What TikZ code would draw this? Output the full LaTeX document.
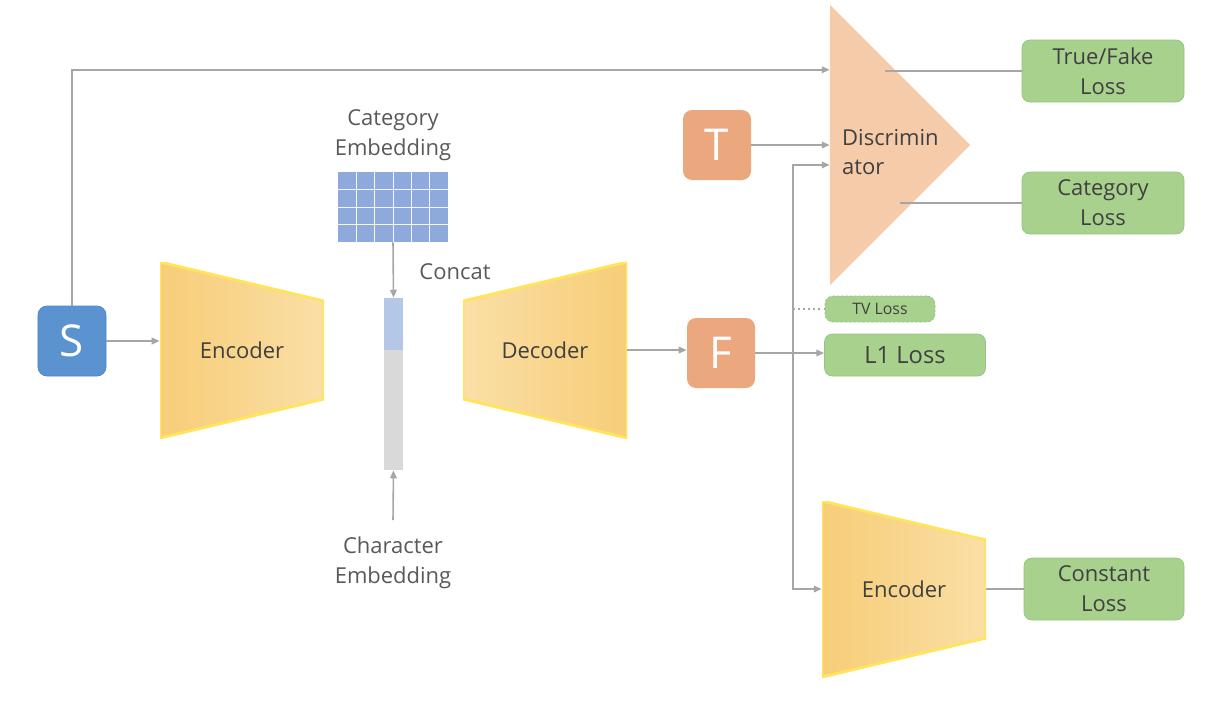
\documentclass[tikz,border=0pt]{standalone}
\usepackage{fontspec}
\setmainfont{Open Sans}
\usepackage{xcolor}
\usetikzlibrary{arrows.meta, positioning, calc}
\definecolor{sblue}{HTML}{5B93D0}
\definecolor{sedge}{HTML}{4F84C2}
\definecolor{torange}{HTML}{EBA77E}
\definecolor{discpeach}{HTML}{F5CBA9}
\definecolor{lossgreen}{HTML}{A9D18E}
\definecolor{lossedge}{HTML}{93C47D}
\definecolor{trapdark}{HTML}{F7CD78}
\definecolor{traplight}{HTML}{FADFA6}
\definecolor{trapedge}{HTML}{FFE45C}
\definecolor{embblue}{HTML}{8EA9DB}
\definecolor{barblue}{HTML}{B4C7E7}
\definecolor{bargray}{HTML}{D9D9D9}
\definecolor{linegray}{HTML}{A6A6A6}
\definecolor{boxtext}{HTML}{404040}
\definecolor{labeltext}{HTML}{595959}
\tikzset{
  inbox/.style    = {rectangle, rounded corners=1.8mm, minimum width=13.6mm,
                     minimum height=14mm, text=white,
                     font=\fontsize{25}{30}\selectfont},
  lossbox/.style  = {rectangle, rounded corners=1.6mm, draw=lossedge,
                     fill=lossgreen, minimum width=32.4mm, minimum height=12.4mm,
                     align=center, text=boxtext},
  encoder/.style  = {rectangle, inner sep=0pt, minimum width=32.8mm,
                     minimum height=35.2mm, text=boxtext,
                     path picture={\shadedraw[left color=trapdark, right color=traplight,
                       draw=trapedge, line width=1.6pt]
                       (path picture bounding box.north west)
                       -- ([yshift=-7.8mm]path picture bounding box.north east)
                       -- ([yshift=7.8mm]path picture bounding box.south east)
                       -- (path picture bounding box.south west) -- cycle;}},
  decoder/.style  = {rectangle, inner sep=0pt, minimum width=32.8mm,
                     minimum height=35.2mm, text=boxtext,
                     path picture={\shadedraw[left color=traplight, right color=trapdark,
                       draw=trapedge, line width=1.6pt]
                       ([yshift=-7.8mm]path picture bounding box.north west)
                       -- (path picture bounding box.north east)
                       -- (path picture bounding box.south east)
                       -- ([yshift=7.8mm]path picture bounding box.south west) -- cycle;}},
  discshape/.style = {rectangle, inner sep=0pt, minimum width=28mm,
                     minimum height=56mm,
                     path picture={\fill[discpeach]
                       (path picture bounding box.north west)
                       -- (path picture bounding box.east)
                       -- (path picture bounding box.south west) -- cycle;}},
  concatbar/.style = {rectangle, inner sep=0pt, minimum width=3.8mm,
                     minimum height=34.4mm, fill=bargray,
                     path picture={\fill[barblue]
                       (path picture bounding box.north west)
                       rectangle ([yshift=-10.4mm]path picture bounding box.north east);}},
  caption/.style  = {text=labeltext, align=center},
  arrow/.style    = {-{Triangle[length=4.5pt, width=3.8pt]}, line width=0.9pt, draw=linegray},
  link/.style     = {line width=0.9pt, draw=linegray},
}

\begin{document}
\begin{tikzpicture}[x=0.2mm, y=-0.2mm, font=\fontsize{12.5}{17}\selectfont]
  \useasboundingbox (0,0) rectangle (1214,702);

  % ---- generator ----
  \node[inbox, fill=sblue, draw=sedge] (S) at (72,341) {S};
  \node[encoder] (enc) at (242,350) {Encoder};

  \node[rectangle, inner sep=0pt, fill=embblue, minimum width=22mm,
        minimum height=14mm] (catemb) at (393,207) {};
  \foreach \i in {1,...,5}
    \draw[white!90!embblue, line width=0.55pt] ($(catemb.north west)!\i/6!(catemb.north east)$)
      -- ($(catemb.south west)!\i/6!(catemb.south east)$);
  \foreach \j in {1,2,3}
    \draw[white!90!embblue, line width=0.55pt] ($(catemb.north west)!\j/4!(catemb.south west)$)
      -- ($(catemb.north east)!\j/4!(catemb.south east)$);
  \node[caption] (catlabel) at (393,135) {Category\\Embedding};

  \node[concatbar] (concat) at (393.5,384) {};
  \node[caption] (concatlabel) at (455,272) {Concat};
  \coordinate (charsrc) at (393,520);
  \node[caption] (charlabel) at (393,563) {Character\\Embedding};

  \node[decoder] (dec) at (545,350) {Decoder};
  \node[inbox, fill=torange] (F) at (721,353) {F};

  % ---- discriminator ----
  \node[inbox, fill=torange] (T) at (717,145) {T};
  \node[discshape] (disc) at (900,145) {};
  \node[anchor=west, align=left, text=boxtext] (disctext) at (836,152) {Discrimin\\ator};
  \coordinate (din1) at ($(disc.north west)!0.232!(disc.south west)$);
  \coordinate (din3) at ($(disc.north west)!0.571!(disc.south west)$);

  % ---- losses ----
  \node[lossbox] (tfloss)  at (1103,71)  {True/Fake\\Loss};
  \node[lossbox] (catloss) at (1103,203) {Category\\Loss};
  \node[lossbox, minimum width=22mm, minimum height=5.2mm,
        dash pattern=on 1.5pt off 1pt,
        font=\fontsize{9}{10}\selectfont] (tvloss) at (880,309) {TV Loss};
  \node[lossbox, minimum width=32.2mm, minimum height=8.4mm,
        font=\fontsize{13.5}{15}\selectfont] (l1loss) at (905,355) {L1 Loss};
  \node[encoder] (enc2) at (904,589) {Encoder};
  \node[lossbox, minimum width=32mm] (constloss) at (1104,589) {Constant\\Loss};

  % arrows
  \draw[arrow] (S.north) |- (din1);
  \draw[arrow] (S.east) -- (S.east -| enc.west);
  \draw[arrow] (catemb.south) -- (concat.north);
  \draw[arrow] (charsrc) -- (concat.south);
  \draw[arrow] (dec.east) -- (dec.east -| F.west);
  \draw[arrow] (F.east) -- (F.east -| l1loss.west);
  \coordinate (split) at (793,353);
  \draw[arrow] (split) |- (din3);
  \draw[arrow] (split) |- (enc2.west);
  \draw[linegray, line width=0.9pt, dotted] (split |- tvloss.west) -- (tvloss.west);
  \draw[arrow] (T.east) -- (T.east -| disc.west);
  \draw[link] ([xshift=-3mm]disc.center |- tfloss.west) -- (tfloss.west);
  \draw[link] (disc.center |- catloss.west) -- (catloss.west);
  \draw[link] (enc2.east) -- (constloss.west);

\end{tikzpicture}
\end{document}
